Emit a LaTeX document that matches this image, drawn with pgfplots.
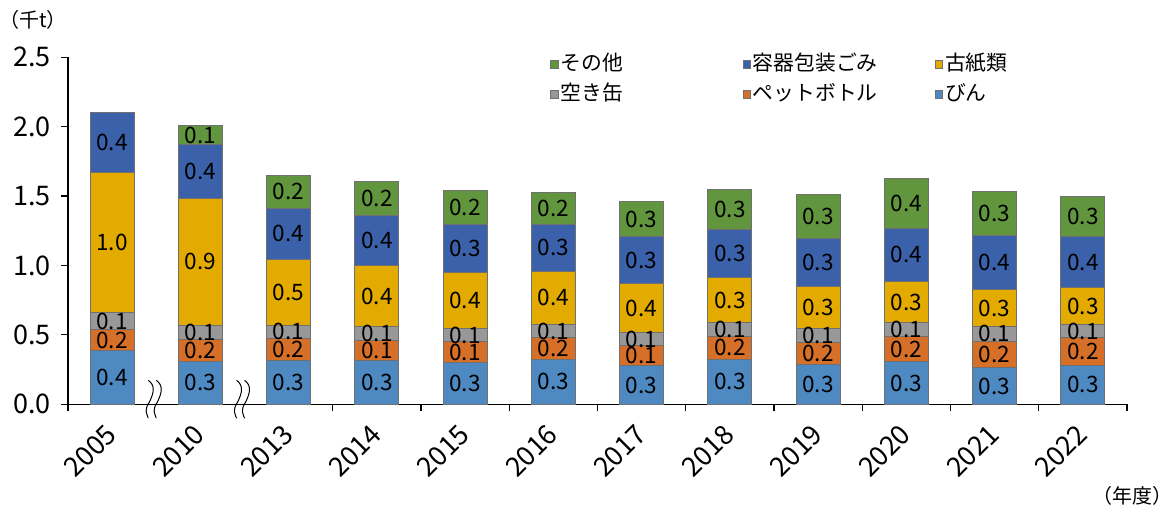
\documentclass[border=0pt]{standalone}
\usepackage{fontspec}
\setmainfont{Noto Sans CJK JP}
\usepackage{pgfplots}
\usepackage{pgfplotstable}
\pgfplotsset{compat=1.18}

\definecolor{cBin}{RGB}{78,137,193}
\definecolor{cPet}{RGB}{214,111,40}
\definecolor{cCan}{RGB}{152,152,152}
\definecolor{cKoshi}{RGB}{227,170,0}
\definecolor{cYoki}{RGB}{59,97,170}
\definecolor{cOther}{RGB}{98,150,62}
\definecolor{cEdge}{RGB}{112,112,112}

\pgfplotstableread{
x bin pet can koshi yoki other
0 0.384 0.153 0.122 1.014 0.427 0
1 0.310 0.158 0.103 0.910 0.394 0.130
2 0.312 0.161 0.098 0.475 0.365 0.240
3 0.312 0.146 0.099 0.440 0.360 0.247
4 0.303 0.148 0.094 0.403 0.346 0.248
5 0.324 0.154 0.099 0.379 0.341 0.230
6 0.278 0.148 0.089 0.357 0.334 0.252
7 0.326 0.164 0.096 0.326 0.349 0.288
8 0.288 0.159 0.096 0.305 0.348 0.319
9 0.307 0.180 0.099 0.300 0.382 0.360
10 0.264 0.192 0.103 0.269 0.386 0.317
11 0.283 0.195 0.099 0.262 0.372 0.283
}\datatable

\tikzset{brk/.style={black, line width=0.5pt}}
\newcommand{\brkpath}{++(-2.5pt,12pt)
      .. controls +(3.5pt,-2.5pt) and +(2.5pt,5pt) .. ++(0.5pt,-11pt)
      .. controls +(-2.5pt,-4pt) and +(-1pt,3pt) .. ++(-0.5pt,-8pt)}

\begin{document}
\begin{tikzpicture}
\path[use as bounding box] (-34pt,-51.35pt) rectangle (554pt,202.15pt);
\begin{axis}[
  at={(0pt,0pt)}, anchor=south west,
  width=529.5pt, height=173.5pt, scale only axis,
  clip=false,
  ybar stacked, bar width=22pt,
  xmin=-0.5, xmax=11.5, ymin=0, ymax=2.5,
  axis x line*=bottom, axis y line*=left,
  axis line style={black, line width=0.6pt},
  tick align=outside,
  major tick length=3.5pt,
  tick style={black, line width=0.6pt},
  ytick={0,0.5,1,1.5,2,2.5},
  /pgf/number format/assume math mode=true,
  yticklabel style={/pgf/number format/.cd, fixed, fixed zerofill, precision=1, /tikz/xshift=-1.5pt},
  tick label style={font=\fontsize{13.5}{15}\selectfont},
  xtick={-0.5,2.5,3.5,4.5,5.5,6.5,7.5,8.5,9.5,10.5,11.5},
  xticklabels={},
  extra x ticks={0,1,2,3,4,5,6,7,8,9,10,11},
  extra x tick labels={2005,2010,2013,2014,2015,2016,2017,2018,2019,2020,2021,2022},
  extra x tick style={major tick length=0pt},
  xticklabel style={rotate=45, anchor=east, xshift=-5.66pt, yshift=-8.7pt},
  every axis plot/.append style={draw=cEdge, line width=0.5pt},
  legend image code/.code={\draw[#1, draw=cEdge, line width=0.4pt] (0pt,-1.85pt) rectangle (3.7pt,1.85pt);},
  reverse legend,
  legend cell align=left,
  legend columns=3,
  legend style={draw=none, fill=none, at={(0.4495,1.0267)}, anchor=north west,
    font=\fontsize{10.4}{12}\selectfont,
    /tikz/every even column/.append style={column sep=0pt},
    nodes={inner sep=1pt, text height=8pt, text depth=2pt, text width=90pt},
    row sep=3pt},
  point meta=rawy,
  nodes near coords={\pgfmathfloatifflags{\pgfplotspointmeta}{0}{}{\pgfmathprintnumber[fixed,fixed zerofill,precision=1]{\pgfplotspointmeta}}},
  every node near coord/.append style={font=\fontsize{11.3}{12}\selectfont, black},
]
\addplot[fill=cBin] table[x=x, y=bin] {\datatable};
\addlegendentry{びん}
\addplot[fill=cPet] table[x=x, y=pet] {\datatable};
\addlegendentry{ペットボトル}
\addplot[fill=cCan] table[x=x, y=can] {\datatable};
\addlegendentry{空き缶}
\addplot[fill=cKoshi] table[x=x, y=koshi] {\datatable};
\addlegendentry{古紙類}
\addplot[fill=cYoki] table[x=x, y=yoki] {\datatable};
\addlegendentry{容器包装ごみ}
\addplot[fill=cOther] table[x=x, y=other] {\datatable};
\addlegendentry{その他}

\draw[brk] ([xshift=-1.5pt]axis cs:0.5,0) \brkpath;
\draw[brk] ([xshift=2.5pt]axis cs:0.5,0) \brkpath;
\draw[brk] ([xshift=-1.5pt]axis cs:1.5,0) \brkpath;
\draw[brk] ([xshift=2.5pt]axis cs:1.5,0) \brkpath;
\end{axis}
\node[font=\fontsize{10}{11}\selectfont] at (-17.5pt,192pt) {（千t）};
\node[font=\fontsize{10}{11}\selectfont] at (532pt,-45.9pt) {（年度）};
\end{tikzpicture}
\end{document}
